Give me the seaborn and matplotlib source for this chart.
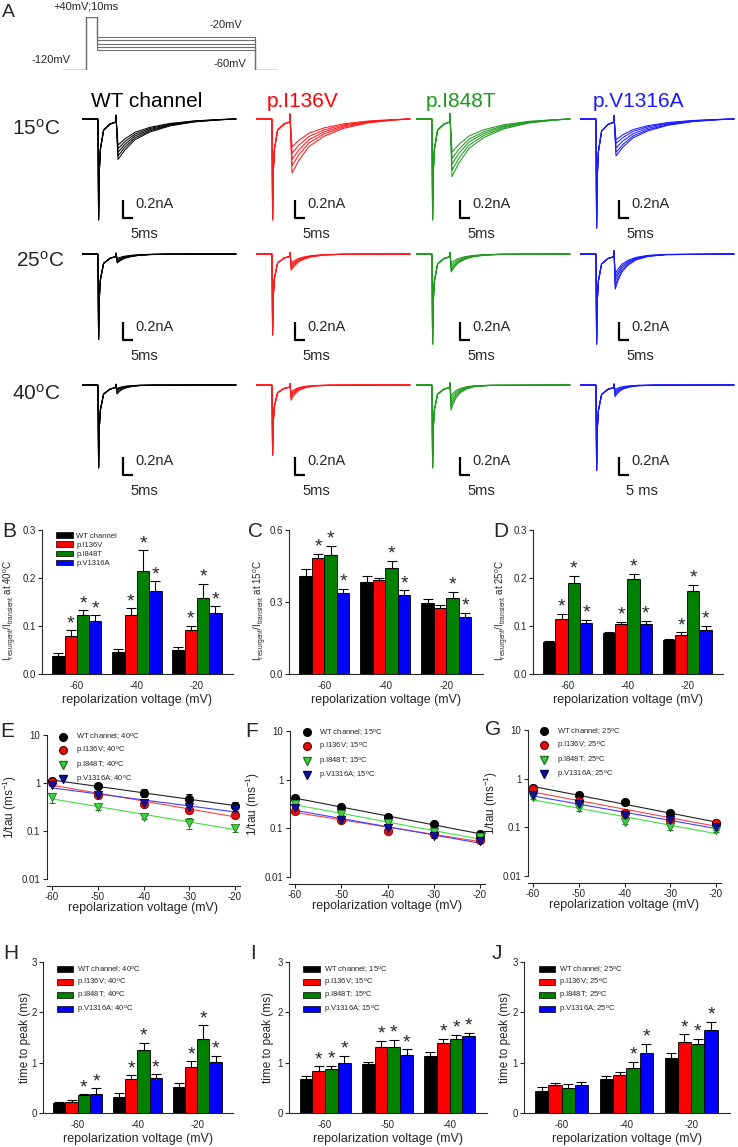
import numpy as np
import pandas as pd
import matplotlib
matplotlib.use('Agg')
import matplotlib.pyplot as plt
from matplotlib.patches import Patch
from matplotlib.lines import Line2D
from matplotlib.ticker import NullLocator, FormatStrFormatter
import seaborn as sns

sns.set_style('ticks')
plt.rcParams['font.family'] = ['Liberation Sans', 'DejaVu Sans']
plt.rcParams['mathtext.default'] = 'regular'
plt.rcParams['axes.unicode_minus'] = False
plt.rcParams['axes.linewidth'] = 0.8

W, H = 738, 1147

channels = ['WT channel', 'p.I136V', 'p.I848T', 'p.V1316A']
temps = ['15', '25', '40']

# ---------------- A: voltage protocol
protocol_levels = [-20, -30, -40, -50, -60]
protocol_hold = -120
protocol_pulse = 40
protocol_durations = [24, 11, 158, 23]   # hold, pulse, repolarization, return (ms)

# ---------------- A: example sweeps (nA)
transient_peak = {
    '15': [1.12, 1.12, 1.12, 1.21],
    '25': [0.95, 0.90, 1.00, 1.00],
    '40': [0.92, 0.78, 0.92, 0.95],
}
resurgent_peak = {
    '15': [[0.29, 0.33, 0.37, 0.41, 0.45], [0.31, 0.38, 0.45, 0.52, 0.60],
           [0.37, 0.44, 0.50, 0.57, 0.64], [0.23, 0.27, 0.32, 0.37, 0.41]],
    '25': [[0.05, 0.065, 0.08, 0.09, 0.10], [0.10, 0.12, 0.14, 0.16, 0.18],
           [0.10, 0.13, 0.16, 0.18, 0.20], [0.22, 0.26, 0.30, 0.35, 0.39]],
    '40': [[0.04, 0.05, 0.06, 0.08, 0.10], [0.08, 0.10, 0.12, 0.14, 0.17],
           [0.12, 0.16, 0.20, 0.24, 0.28], [0.05, 0.07, 0.09, 0.11, 0.13]],
}
transient_t = [-8, -0.1, 0.0, 0.3, 0.7, 1.2, 2.8, 6, 8.9]
transient_shape = [0, 0, -0.03, -1, -0.5, -0.3, -0.11, -0.05, -0.03]
resurgent_shape = [0.1, -1, -0.76, -0.51, -0.32, -0.17, -0.07, -0.02, 0]
resurgent_t = {
    '15': [9, 10, 13.5, 18.5, 26, 36, 48.5, 61, 69],
    '25': [9, 9.6, 11, 13, 16, 20, 26, 35, 69],
    '40': [9, 9.5, 10.5, 12, 14, 17, 21, 29, 69],
}
time_bar_label = {'15': ['5ms'] * 4, '25': ['5ms'] * 4, '40': ['5ms', '5ms', '5ms', '5 ms']}

# ---------------- B-D: I_resurgent / I_transient
volt_res = ['-60', '-40', '-20']
res40 = [[0.037, 0.045, 0.050], [0.079, 0.122, 0.091], [0.123, 0.215, 0.158], [0.110, 0.172, 0.128]]
res40_err = [[0.006, 0.007, 0.006], [0.012, 0.015, 0.009], [0.010, 0.043, 0.030], [0.012, 0.021, 0.013]]
res40_star = [[0, 0, 0], [1, 1, 1], [1, 1, 1], [1, 1, 1]]
res15 = [[0.408, 0.384, 0.296], [0.485, 0.39, 0.275], [0.495, 0.44, 0.317], [0.338, 0.331, 0.237]]
res15_err = [[0.028, 0.024, 0.017], [0.015, 0.011, 0.011], [0.040, 0.031, 0.025], [0.017, 0.018, 0.017]]
res15_star = [[0, 0, 0], [1, 0, 0], [1, 1, 1], [1, 1, 1]]
res25 = [[0.067, 0.085, 0.071], [0.114, 0.104, 0.082], [0.190, 0.198, 0.173], [0.106, 0.105, 0.092]]
res25_err = [[0.002, 0.003, 0.002], [0.012, 0.005, 0.005], [0.015, 0.011, 0.013], [0.007, 0.006, 0.008]]
res25_star = [[0, 0, 0], [1, 1, 1], [1, 1, 1], [1, 1, 1]]

# ---------------- E-G: 1/tau (ms^-1)
tau_v = [-60, -50, -40, -30, -20]
tau40 = [[1.12, 0.88, 0.62, 0.47, 0.33], [1.05, 0.55, 0.37, 0.28, 0.22],
         [0.50, 0.32, 0.20, 0.15, 0.115], [0.92, 0.55, 0.38, 0.31, 0.29]]
tau40_err = [[0.12, 0.10, 0.12, 0.13, 0.07], [0.05, 0.05, 0.03, 0.03, 0.03],
             [0.12, 0.04, 0.02, 0.04, 0.02], [0.05, 0.05, 0.04, 0.03, 0.04]]
tau15 = [[0.42, 0.28, 0.17, 0.12, 0.078], [0.23, 0.15, 0.09, 0.075, 0.058],
         [0.32, 0.20, 0.13, 0.083, 0.065], [0.26, 0.15, 0.10, 0.068, 0.055]]
tau15_err = [[0.02, 0.015, 0.01, 0.006, 0.004], [0.015, 0.01, 0.006, 0.004, 0.003],
             [0.02, 0.01, 0.008, 0.005, 0.004], [0.015, 0.01, 0.006, 0.004, 0.003]]
tau25 = [[0.65, 0.46, 0.33, 0.20, 0.12], [0.60, 0.35, 0.20, 0.14, 0.125],
         [0.42, 0.25, 0.13, 0.10, 0.09], [0.47, 0.30, 0.18, 0.14, 0.10]]
tau25_err = [[0.04, 0.03, 0.02, 0.015, 0.01], [0.04, 0.03, 0.02, 0.015, 0.01],
             [0.04, 0.03, 0.015, 0.012, 0.008], [0.03, 0.03, 0.02, 0.015, 0.01]]

# ---------------- H-J: time to peak (ms)
volt_ttp40 = ['-60', '-40', '-20']
ttp40 = [[0.20, 0.32, 0.51], [0.21, 0.68, 0.92], [0.36, 1.25, 1.47], [0.38, 0.70, 1.01]]
ttp40_err = [[0.02, 0.07, 0.09], [0.04, 0.07, 0.11], [0.01, 0.14, 0.27], [0.11, 0.07, 0.13]]
ttp40_star = [[0, 0, 0], [0, 1, 1], [1, 1, 1], [1, 1, 1]]
volt_ttp15 = ['-60', '-50', '-40']
ttp15 = [[0.67, 0.97, 1.14], [0.84, 1.31, 1.40], [0.87, 1.31, 1.47], [0.99, 1.16, 1.52]]
ttp15_err = [[0.07, 0.04, 0.07], [0.09, 0.12, 0.08], [0.07, 0.15, 0.08], [0.15, 0.11, 0.07]]
ttp15_star = [[0, 0, 0], [1, 1, 1], [1, 1, 1], [1, 1, 1]]
volt_ttp25 = ['-60', '-40', '-20']
ttp25 = [[0.44, 0.67, 1.09], [0.55, 0.76, 1.42], [0.50, 0.89, 1.38], [0.55, 1.20, 1.64]]
ttp25_err = [[0.07, 0.06, 0.11], [0.04, 0.05, 0.14], [0.07, 0.13, 0.10], [0.06, 0.17, 0.17]]
ttp25_star = [[0, 0, 0], [0, 0, 1], [0, 1, 1], [0, 1, 1]]

bar_colors = ['#000000', '#ff0000', '#008000', '#0000ff']
trace_colors = ['#000000', '#ff1a1a', '#1f9a1f', '#1a1aff']
title_colors = ['#000000', '#ff0000', '#1a9a1a', '#1a1aff']
marker_face = ['#000000', '#e01010', '#40d040', '#10109a']
marker_edge = ['#000000', '#800000', '#1a7a1a', '#000060']
marker_style = ['o', 'o', 'v', 'v']
fit_colors = ['#202020', '#ff4040', '#40e040', '#4040ff']

fig = plt.figure(figsize=(W / 100, H / 100), dpi=100)


def px_axes(left, top, right, bottom):
    return fig.add_axes([left / W, 1 - bottom / H, (right - left) / W, (bottom - top) / H])


def px_text(x, y, s, **kw):
    fig.text(x / W, 1 - y / H, s, **kw)


def deg(t):
    return t + '$^o$C'


# ---------------- panel A
ax = px_axes(62, 17, 278, 70)
edges = np.cumsum([0] + protocol_durations)
for lev in protocol_levels:
    t = [edges[0], edges[1], edges[1], edges[2], edges[2], edges[3], edges[3], edges[4]]
    v = [protocol_hold, protocol_hold, protocol_pulse, protocol_pulse, lev, lev, protocol_hold, protocol_hold]
    ax.plot(t, v, color='#707070', lw=0.8)
ax.set_xlim(edges[0], edges[-1])
ax.set_ylim(protocol_hold, protocol_pulse)
ax.axis('off')
px_text(53, 9.5, '+40mV;10ms', fontsize=8, va='baseline')
px_text(210, 28, '-20mV', fontsize=8, va='baseline')
px_text(32, 63, '-120mV', fontsize=8, va='baseline')
px_text(213, 67, '-60mV', fontsize=8, va='baseline')
px_text(2, 4, 'A', fontsize=14, va='top')

spike_x = [98, 272, 432, 596]
base_y = [119, 254, 385]
bar_dx = [12.5, 11.5, 14, 11.5]
bar_y = {'15': -1.1, '25': -0.96, '40': -1.0}
for r, temp in enumerate(temps):
    for c in range(4):
        ax = px_axes(spike_x[c] - 16, base_y[r] - 9, spike_x[c] + 140, base_y[r] + 121.5)
        tr = np.array(transient_shape) * transient_peak[temp][c]
        for a in resurgent_peak[temp][c]:
            t = np.r_[transient_t, resurgent_t[temp]]
            y = np.r_[tr, np.array(resurgent_shape) * a]
            ax.plot(t, y, color=trace_colors[c], lw=0.75)
        sx, sy = bar_dx[c], bar_y[temp]
        ax.plot([sx, sx, sx + 5], [sy + 0.2, sy, sy], color='black', lw=1.6, solid_capstyle='butt')
        ax.text(sx + 6, sy + 0.11, '0.2nA', fontsize=10.5, va='baseline', clip_on=False)
        ax.text(sx + 3.5, sy - 0.22, time_bar_label[temp][c], fontsize=10.5, va='baseline', clip_on=False)
        ax.set_xlim(-8, 70)
        ax.set_ylim(-1.35, 0.1)
        ax.axis('off')

title_x = [147, 303, 461, 638]
for c, ch in enumerate(channels):
    px_text(title_x[c], 107, ch, fontsize=15, color=title_colors[c], ha='center', va='baseline')
row_label_xy = [(12, 135), (16, 267), (12, 400)]
for r, temp in enumerate(temps):
    px_text(row_label_xy[r][0], row_label_xy[r][1], deg(temp), fontsize=15, va='baseline')


# ---------------- helpers for the lower panels
def style_axes(ax, ylab_right, xlab_top, box):
    left, top, right, bottom = box
    sns.despine(ax=ax)
    ax.tick_params(direction='out', length=3, width=0.8, labelsize=7, pad=1.5)
    ax.yaxis.set_label_coords((ylab_right - left) / (right - left), 0.5)
    ax.xaxis.set_label_coords(0.5, (bottom - xlab_top) / (bottom - top))


def bar_panel(box, volts, vals, errs, stars, ylim, yticks, ylabel, legend_labels=None, ylab_right=18,
              ylab_size=8.5):
    left, top, right, bottom = box
    ax = px_axes(*box)
    df = pd.DataFrame([(ch, v, vals[i][j]) for i, ch in enumerate(channels) for j, v in enumerate(volts)],
                      columns=['channel', 'voltage', 'value'])
    sns.barplot(data=df, x='voltage', y='value', hue='channel', order=volts, hue_order=channels,
                palette=bar_colors, saturation=1, width=0.82, edgecolor='black', linewidth=0.6,
                errorbar=None, legend=False, ax=ax)
    for i, cont in enumerate(list(ax.containers)):
        for j, bar in enumerate(cont.patches):
            x = bar.get_x() + bar.get_width() / 2
            ax.errorbar(x, vals[i][j], yerr=[[0], [errs[i][j]]], fmt='none', ecolor='black',
                        elinewidth=0.8, capsize=3.4, capthick=0.8)
            if stars[i][j]:
                ax.annotate('*', (x, vals[i][j] + errs[i][j]), xytext=(0, 1.5), textcoords='offset points',
                            ha='center', va='baseline', fontsize=14)
    ax.set_xlim(-0.58, 2.6)
    ax.set_ylim(*ylim)
    ax.set_yticks(yticks)
    ax.set_xlabel('repolarization voltage (mV)', fontsize=9)
    ax.set_ylabel(ylabel, fontsize=ylab_size)
    style_axes(ax, ylab_right, bottom + 20, box)
    ax.tick_params(axis='x', length=0, pad=5)
    if legend_labels:
        handles = [Patch(facecolor=bar_colors[i], edgecolor='black', lw=0.5, label=legend_labels[i])
                   for i in range(4)]
        ax.legend(handles=handles, loc='upper left', bbox_to_anchor=(0.06, 1.0),
                  frameon=False, fontsize=5.5, handlelength=2.2, handleheight=0.8,
                  labelspacing=0.2, handletextpad=0.5, borderaxespad=0.2, borderpad=0.1)
    return ax


def tau_panel(box, vals, errs, temp, ylab_right):
    left, top, right, bottom = box
    ax = px_axes(*box)
    ax.set_yscale('log')
    x = np.array(tau_v, dtype=float)
    for i in range(4):
        y = np.array(vals[i])
        k, b = np.polyfit(x, np.log10(y), 1)
        ax.plot(x[[0, -1]], 10 ** (k * x[[0, -1]] + b), color=fit_colors[i], lw=0.8, zorder=2)
    for i in range(4):
        ax.errorbar(x, vals[i], yerr=errs[i], fmt='none', ecolor=marker_edge[i], elinewidth=0.7,
                    capsize=2, capthick=0.7, zorder=3)
        sns.scatterplot(x=x, y=vals[i], marker=marker_style[i], color=marker_face[i], edgecolor=marker_edge[i],
                        linewidth=0.6, s=36, ax=ax, zorder=4)
    ax.set_xlim(-61.2, -19)
    ax.set_ylim(0.01, 10)
    ax.set_xticks(tau_v)
    ax.set_yticks([0.01, 0.1, 1, 10])
    ax.set_yticklabels(['0.01', '0.1', '1', '10'])
    ax.yaxis.set_minor_locator(NullLocator())
    ax.set_xlabel('repolarization voltage (mV)', fontsize=9)
    ax.set_ylabel('1/tau (ms$^{-1}$)', fontsize=8.5)
    style_axes(ax, ylab_right, 902, (left, top, right, 879))
    ax.spines['bottom'].set_position(('outward', 5))
    handles = [Line2D([], [], ls='none', marker=marker_style[i], markerfacecolor=marker_face[i],
                      markeredgecolor=marker_edge[i], markersize=5.5, label=channels[i] + '; ' + deg(temp))
               for i in range(4)]
    ax.legend(handles=handles, loc='upper left', bbox_to_anchor=(0.06, 1.03), frameon=False, fontsize=5.5,
              handlelength=1.2, labelspacing=0.35, handletextpad=1.0, borderpad=0.1, borderaxespad=0)
    return ax


# ---------------- B-D
res_lab = 'I$_{resurgent}$/I$_{transient}$ at '
for box, vals, errs, stars, yl, yt, temp, yr, leg in [
        ((42, 530, 233, 674), res40, res40_err, res40_star, (0, 0.3), [0, 0.1, 0.2, 0.3], '40', 18, channels),
        ((289, 530, 483, 674), res15, res15_err, res15_star, (0, 0.6), [0, 0.3, 0.6], '15', 268, None),
        ((533, 530, 723, 674), res25, res25_err, res25_star, (0, 0.3), [0, 0.1, 0.2, 0.3], '25', 510, None)]:
    axb = bar_panel(box, volt_res, vals, errs, stars, yl, yt, res_lab + deg(temp), legend_labels=leg,
                    ylab_right=yr, ylab_size=7)
    axb.yaxis.set_major_formatter(FormatStrFormatter('%.1f'))
    axb.yaxis.label.set_y(0.44)

# ---------------- E-G
tau_panel((46.5, 735, 239.6, 879), tau40, tau40_err, '40', 19)
tau_panel((289.5, 731, 484.6, 877), tau15, tau15_err, '15', 262)
tau_panel((527.5, 730, 720.6, 876), tau25, tau25_err, '25', 500)

# ---------------- H-J
bar_panel((43, 962, 233, 1113), volt_ttp40, ttp40, ttp40_err, ttp40_star, (0, 3), [0, 1, 2, 3],
          'time to peak (ms)', legend_labels=[ch + '; ' + deg('40') for ch in channels], ylab_right=31)
bar_panel((289, 962, 487, 1113), volt_ttp15, ttp15, ttp15_err, ttp15_star, (0, 3), [0, 1, 2, 3],
          'time to peak (ms)', legend_labels=[ch + '; ' + deg('15') for ch in channels], ylab_right=274)
bar_panel((524, 962, 730, 1113), volt_ttp25, ttp25, ttp25_err, ttp25_star, (0, 3), [0, 1, 2, 3],
          'time to peak (ms)', legend_labels=[ch + '; ' + deg('25') for ch in channels], ylab_right=511)

# panel letters
for lab, x, y in [('B', 2, 522), ('C', 248, 522), ('D', 493, 522),
                  ('E', 0, 722), ('F', 245, 722), ('G', 485, 720),
                  ('H', 3, 944), ('I', 250, 944), ('J', 492, 944)]:
    px_text(x, y, lab, fontsize=15, va='top')

fig.savefig('out.png', dpi=100)
